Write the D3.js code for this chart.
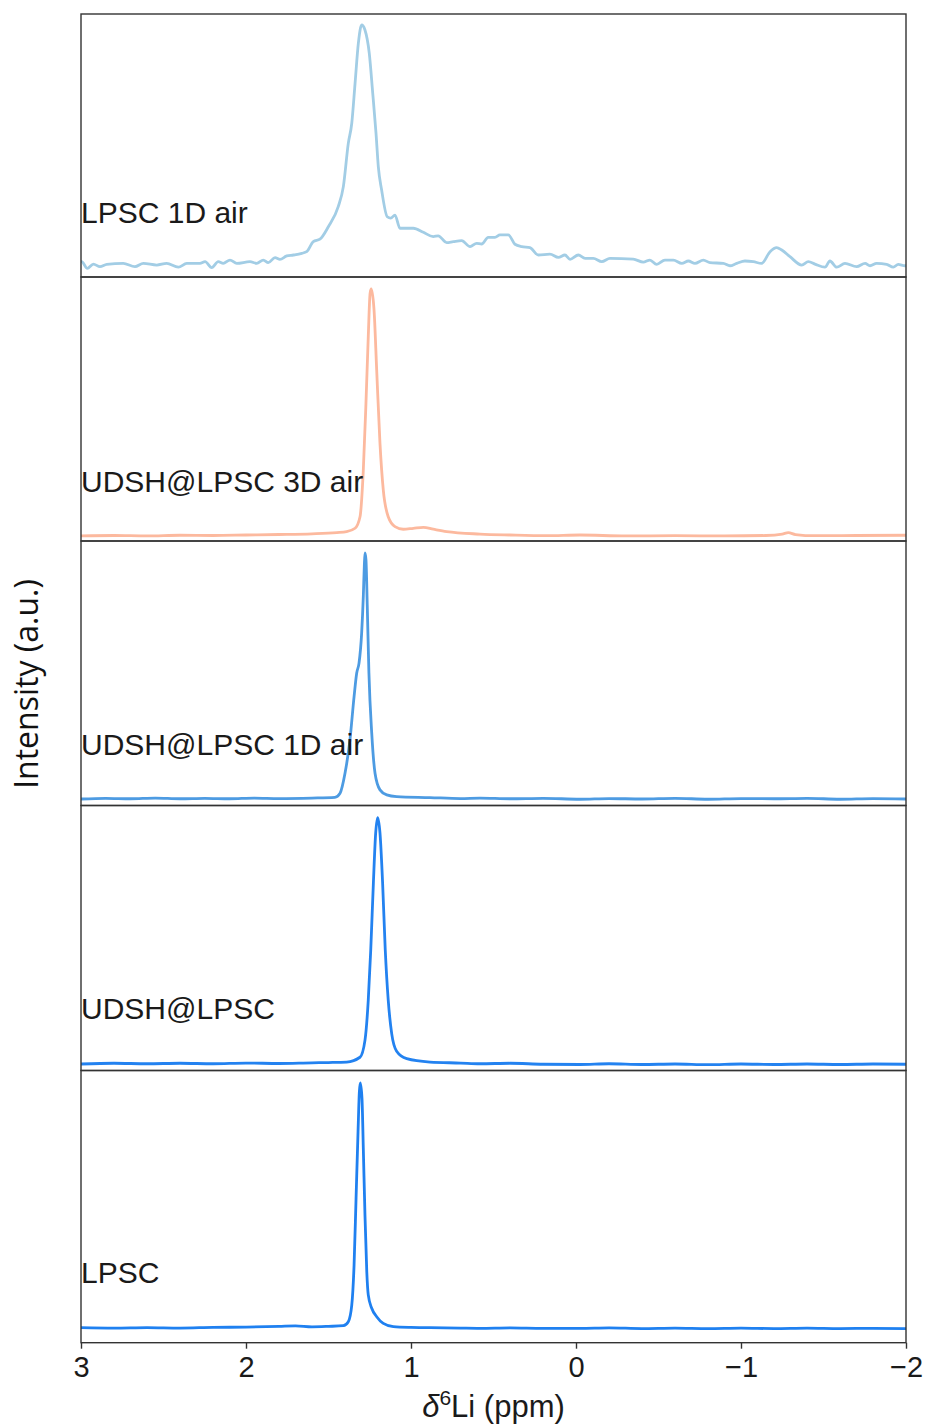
<!DOCTYPE html>
<html>
<head>
<meta charset="utf-8">
<script src="https://cdn.jsdelivr.net/npm/d3@7"></script>
<style>
  html, body { margin: 0; padding: 0; background: #fff; }
  svg { display: block; }
</style>
</head>
<body>
<div id="chart"></div>
<script>
// 6Li MAS NMR spectra, stacked top to bottom; intensities normalised to the main peak (a.u.)
const sampleNames = ["LPSC 1D air", "UDSH@LPSC 3D air", "UDSH@LPSC 1D air", "UDSH@LPSC", "LPSC"];

const xTicks = [3, 2, 1, 0, -1, -2];

// [chemical shift (ppm), intensity]
const lpsc1dAir = [
  [3.000, 1.4], [2.996, 1.4], [2.962, -1.4], [2.925, 0.4], [2.885, -0.7], [2.844, 0.3], [2.744, 0.7],
  [2.673, -0.7], [2.622, 0.7], [2.541, 0.0], [2.481, 0.7], [2.410, -0.9], [2.359, 0.7],
  [2.279, 0.7], [2.248, 1.4], [2.208, -1.1], [2.168, 1.4], [2.138, 0.7], [2.097, 2.1],
  [2.056, 0.7], [1.976, 1.4], [1.935, 0.7], [1.895, 2.1], [1.865, 1.0], [1.824, 3.1],
  [1.794, 2.4], [1.753, 3.8], [1.713, 4.2], [1.662, 4.9], [1.632, 5.6], [1.592, 9.8],
  [1.552, 10.8], [1.501, 16.0], [1.441, 24.4], [1.410, 32.8], [1.380, 50.9], [1.359, 59.3],
  [1.339, 76.0], [1.319, 92.8], [1.299, 100.4], [1.279, 98.3], [1.253, 88.6], [1.232, 71.9],
  [1.212, 55.1], [1.198, 41.1], [1.178, 31.4], [1.144, 20.2], [1.123, 19.6], [1.097, 20.9],
  [1.067, 15.4], [0.986, 15.4], [0.925, 13.7], [0.865, 11.9], [0.835, 12.2], [0.784, 9.4],
  [0.744, 9.8], [0.693, 10.2], [0.642, 7.7], [0.602, 9.1], [0.572, 8.8], [0.532, 11.6],
  [0.491, 11.6], [0.461, 12.6], [0.410, 12.6], [0.370, 8.7], [0.329, 7.7], [0.279, 7.3],
  [0.228, 4.2], [0.158, 4.6], [0.107, 3.2], [0.067, 4.2], [0.036, 2.4], [-0.014, 4.2],
  [-0.055, 2.8], [-0.105, 2.8], [-0.156, 1.4], [-0.206, 2.8], [-0.347, 2.5], [-0.408, 1.2],
  [-0.448, 2.1], [-0.489, 0.3], [-0.539, 2.1], [-0.590, 2.1], [-0.641, 0.7], [-0.681, 1.7],
  [-0.721, 0.7], [-0.772, 2.1], [-0.812, 1.0], [-0.893, 0.7], [-0.933, -0.3], [-0.974, 0.7],
  [-1.024, 1.7], [-1.075, 1.4], [-1.125, 0.7], [-1.176, 5.6], [-1.216, 7.3], [-1.247, 6.3],
  [-1.297, 3.5], [-1.368, 0.0], [-1.408, 1.4], [-1.448, 0.4], [-1.509, -0.9], [-1.539, 1.7],
  [-1.580, -0.9], [-1.630, 0.7], [-1.701, -0.7], [-1.752, 0.7], [-1.782, -0.3], [-1.822, 0.7],
  [-1.883, 0.3], [-1.923, -0.9], [-1.953, 0.3], [-1.994, -0.3], [-2.000, -0.3]
];

const udsh3dAir = [
  [3.00, -2.9], [2.80, -2.7], [2.60, -2.9], [2.40, -2.6], [2.20, -2.7], [2.00, -2.5],
  [1.80, -2.3], [1.60, -2.0], [1.45, -1.5], [1.390, -1.1], [1.339, 0.3], [1.309, 5.1],
  [1.289, 24.6], [1.273, 52.4], [1.259, 80.1], [1.248, 98.2], [1.241, 100.0], [1.224, 91.3],
  [1.208, 66.3], [1.188, 35.7], [1.168, 16.3], [1.138, 5.1], [1.097, 1.0], [1.047, -0.1],
  [0.986, 0.3], [0.925, 0.7], [0.865, -0.1], [0.784, -1.1], [0.582, -2.1], [0.40, -2.5],
  [0.178, -2.8], [-0.024, -2.5], [-0.30, -2.9], [-0.60, -2.8], [-0.90, -2.9], [-1.15, -2.7],
  [-1.25, -2.1], [-1.287, -1.5], [-1.33, -2.3], [-1.45, -2.8], [-1.70, -2.7], [-2.00, -2.6]
];

const udsh1dAir = [
  [3.00, -2.3], [2.85, -2.0], [2.70, -2.2], [2.55, -1.9], [2.40, -2.2], [2.25, -2.0],
  [2.10, -2.2], [1.95, -1.9], [1.80, -2.1], [1.60, -1.9], [1.461, -1.6], [1.430, 0.1],
  [1.400, 8.4], [1.370, 22.3], [1.345, 40.3], [1.329, 50.1], [1.315, 54.2], [1.299, 66.8],
  [1.289, 82.0], [1.283, 94.5], [1.279, 100.0], [1.273, 97.3], [1.265, 77.8], [1.255, 50.1],
  [1.238, 25.1], [1.218, 8.4], [1.188, 1.5], [1.147, -0.6], [1.087, -1.3], [0.885, -1.7],
  [0.70, -2.1], [0.582, -1.9], [0.40, -2.2], [0.20, -2.0], [-0.024, -2.4], [-0.20, -2.1],
  [-0.40, -2.3], [-0.60, -2.0], [-0.80, -2.4], [-1.00, -2.1], [-1.20, -2.2], [-1.40, -2.0],
  [-1.60, -2.4], [-1.80, -2.1], [-2.00, -2.3]
];

const udshLpsc = [
  [3.00, -2.3], [2.80, -2.0], [2.60, -2.2], [2.40, -2.0], [2.20, -2.2], [2.00, -1.9],
  [1.80, -2.1], [1.60, -1.8], [1.50, -1.7], [1.390, -1.5], [1.309, 0.5], [1.279, 7.5],
  [1.259, 24.2], [1.244, 45.0], [1.228, 72.8], [1.214, 93.6], [1.202, 100.0], [1.188, 93.6],
  [1.172, 72.8], [1.156, 45.0], [1.138, 24.2], [1.117, 10.3], [1.087, 3.0], [1.026, -0.1],
  [0.885, -1.5], [0.70, -1.9], [0.582, -2.2], [0.40, -2.0], [0.20, -2.4], [-0.024, -2.5],
  [-0.20, -2.2], [-0.40, -2.5], [-0.60, -2.3], [-0.80, -2.6], [-1.00, -2.3], [-1.20, -2.5],
  [-1.40, -2.3], [-1.60, -2.5], [-1.80, -2.3], [-2.00, -2.4]
];

const lpsc = [
  [3.00, 1.1], [2.80, 0.9], [2.60, 1.1], [2.40, 0.9], [2.20, 1.2], [2.00, 1.3],
  [1.80, 1.6], [1.70, 1.8], [1.60, 1.4], [1.50, 1.6], [1.410, 1.9], [1.380, 3.5],
  [1.359, 10.2], [1.345, 26.4], [1.333, 53.3], [1.321, 80.2], [1.313, 96.4], [1.307, 100.0],
  [1.297, 93.7], [1.289, 73.5], [1.279, 46.6], [1.268, 23.7], [1.259, 14.3], [1.238, 8.9],
  [1.208, 5.5], [1.168, 2.8], [1.107, 1.5], [1.00, 1.2], [0.885, 1.1], [0.70, 0.9],
  [0.582, 0.8], [0.40, 1.0], [0.20, 0.8], [-0.024, 0.8], [-0.20, 1.0], [-0.40, 0.7],
  [-0.60, 0.9], [-0.80, 0.7], [-1.00, 0.9], [-1.20, 0.7], [-1.40, 0.9], [-1.60, 0.7],
  [-1.80, 0.8], [-2.00, 0.7]
];

const spectra = [lpsc1dAir, udsh3dAir, udsh1dAir, udshLpsc, lpsc];

// ---- styling / layout ----
const lineColors = ["#a2cde5", "#fcb99e", "#4d9be2", "#2382f0", "#1f80f0"];
const panelEdges = [14, 277, 541, 805.5, 1070.5, 1342.7];
const labelLevels = [17.7, 15.5, 16.0, 16.3, 19.1];
const W = 927, H = 1427;
const left = 81, right = 906;

const svg = d3.select("#chart").append("svg")
  .attr("width", W).attr("height", H)
  .style("background", "#fff");

const x = d3.scaleLinear().domain([3, -2]).range([left, right]);

spectra.forEach((series, i) => {
  const top = panelEdges[i], bottom = panelEdges[i + 1];
  const y = d3.scaleLinear().domain([-5, 105]).range([bottom, top]);
  const g = svg.append("g");

  g.append("clipPath").attr("id", "clip" + i)
    .append("rect").attr("x", left).attr("y", top)
    .attr("width", right - left).attr("height", bottom - top);

  const line = d3.line()
    .x(d => x(d[0]))
    .y(d => y(d[1]))
    .curve(d3.curveMonotoneX);

  g.append("path")
    .datum(series)
    .attr("clip-path", `url(#clip${i})`)
    .attr("fill", "none")
    .attr("stroke", lineColors[i])
    .attr("stroke-width", 2.8)
    .attr("stroke-linejoin", "round")
    .attr("d", line);

  g.append("rect")
    .attr("x", left).attr("y", top)
    .attr("width", right - left).attr("height", bottom - top)
    .attr("fill", "none")
    .attr("stroke", "#333")
    .attr("stroke-width", 1.4);

  g.append("text")
    .attr("x", left)
    .attr("y", y(labelLevels[i]))
    .attr("font-family", "'Liberation Sans', Arial, sans-serif")
    .attr("font-size", 30)
    .attr("fill", "#1a1a1a")
    .text(sampleNames[i]);
});

// bottom axis
const axis = d3.axisBottom(x)
  .tickValues(xTicks)
  .tickSize(6)
  .tickPadding(8)
  .tickFormat(d3.format("d"));

const axisG = svg.append("g")
  .attr("transform", `translate(0,${panelEdges[panelEdges.length - 1]})`)
  .call(axis);
axisG.select(".domain").remove();
axisG.selectAll(".tick line").attr("stroke", "#333").attr("stroke-width", 1.4);
axisG.selectAll(".tick text")
  .attr("font-family", "'Liberation Sans', Arial, sans-serif")
  .attr("font-size", 29)
  .attr("fill", "#1a1a1a");

// x-axis title: δ⁶Li (ppm)
const xt = svg.append("text")
  .attr("x", (left + right) / 2)
  .attr("y", 1417)
  .attr("text-anchor", "middle")
  .attr("font-family", "'Liberation Sans', Arial, sans-serif")
  .attr("font-size", 31)
  .attr("fill", "#1a1a1a");
xt.append("tspan").attr("font-style", "italic").text("δ");
xt.append("tspan").attr("font-size", 21).attr("dy", -12).text("6");
xt.append("tspan").attr("dy", 12).text("Li (ppm)");

// y-axis title
svg.append("text")
  .attr("transform", `translate(38,684) rotate(-90)`)
  .attr("text-anchor", "middle")
  .attr("font-family", "'Open Sans', 'Noto Sans', sans-serif")
  .attr("font-size", 32)
  .attr("fill", "#111")
  .text("Intensity (a.u.)");
</script>
</body>
</html>
